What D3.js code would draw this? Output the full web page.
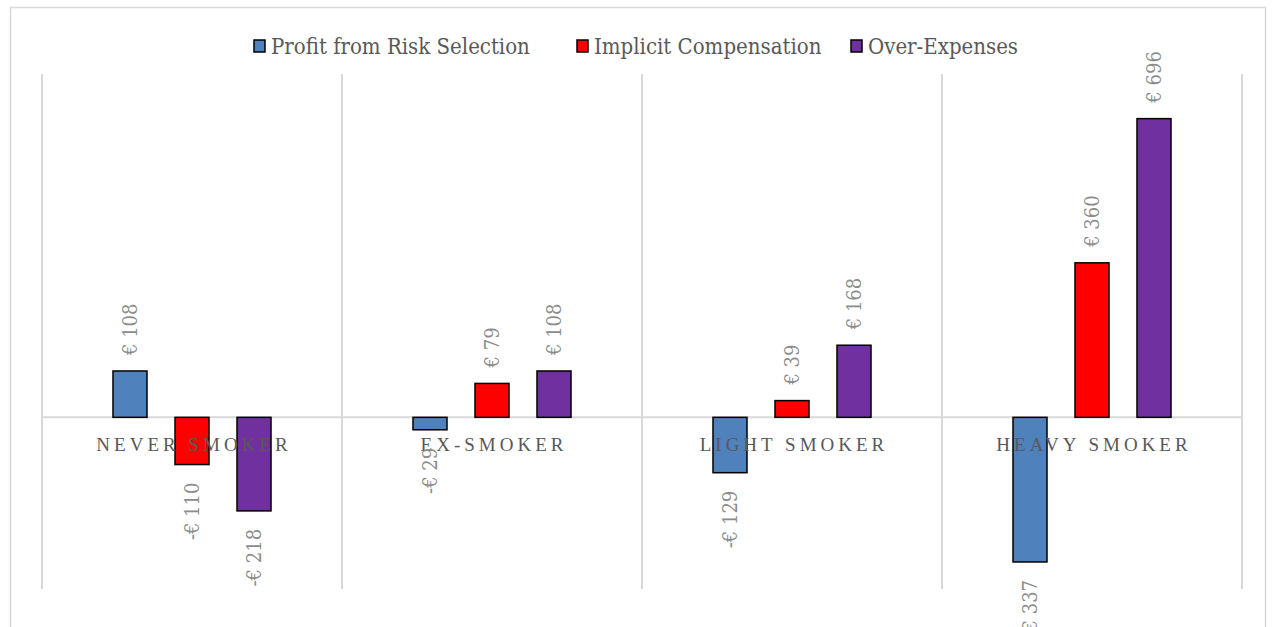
<!DOCTYPE html>
<html>
<head>
<meta charset="utf-8">
<script src="https://cdn.jsdelivr.net/npm/d3@7"></script>
<style>
  body { margin: 0; background: #fff; }
  svg { display: block; }
</style>
</head>
<body>
<script>
// data
const categories = ["NEVER SMOKER", "EX-SMOKER", "LIGHT SMOKER", "HEAVY SMOKER"];
const seriesNames = ["Profit from Risk Selection", "Implicit Compensation", "Over-Expenses"];
const profit = [108, -29, -129, -337];
const implicit = [-110, 79, 39, 360];
const overExp = [-218, 108, 168, 696];
const colors = ["#4f81bd", "#ff0000", "#7030a0"];

const series = [profit, implicit, overExp];

const width = 1277, height = 627;
const margin = {top: 74, right: 35, bottom: 39, left: 42};

var svg = d3.select("body").append("svg")
    .attr("width", width)
    .attr("height", height);

// outer chart border
svg.append("rect")
    .attr("x", 10.5).attr("y", 7.5)
    .attr("width", 1255).attr("height", 640)
    .attr("fill", "none")
    .attr("stroke", "#d9d9d9")
    .attr("stroke-width", 1.5);

const x0 = d3.scaleBand()
    .domain(categories)
    .range([margin.left, width - margin.right]);

const x1 = d3.scaleBand()
    .domain(d3.range(series.length))
    .range([0, x0.bandwidth()])
    .paddingInner(0.4516)
    .paddingOuter(1.145);

const y = d3.scaleLinear()
    .domain([-400, 800])
    .range([height - margin.bottom + 1, margin.top]);

// vertical gridlines at category borders
svg.append("g")
    .selectAll("line")
    .data(categories.map(c => x0(c)).concat([x0.range()[1]]))
    .join("line")
      .attr("x1", d => d).attr("x2", d => d)
      .attr("y1", y.range()[1]).attr("y2", y.range()[0])
      .attr("stroke", "#d9d9d9")
      .attr("stroke-width", 2);

// zero line
svg.append("line")
    .attr("x1", x0.range()[0]).attr("x2", x0.range()[1])
    .attr("y1", y(0)).attr("y2", y(0))
    .attr("stroke", "#d9d9d9")
    .attr("stroke-width", 2);

const bars = [];
categories.forEach((c, i) => {
  series.forEach((s, j) => {
    bars.push({cat: c, k: j, v: s[i]});
  });
});

svg.append("g")
  .selectAll("rect")
  .data(bars)
  .join("rect")
    .attr("x", d => x0(d.cat) + x1(d.k))
    .attr("width", x1.bandwidth())
    .attr("y", d => y(Math.max(0, d.v)))
    .attr("height", d => Math.abs(y(d.v) - y(0)))
    .attr("fill", d => colors[d.k])
    .attr("stroke", "#000")
    .attr("stroke-width", 1.5);

// category labels
svg.append("g")
  .selectAll("text")
  .data(categories)
  .join("text")
    .attr("x", d => x0(d) + x0.bandwidth() / 2 + 2)
    .attr("y", y(0) + 34)
    .attr("text-anchor", "middle")
    .attr("font-family", "Liberation Serif")
    .attr("font-size", 19)
    .attr("letter-spacing", 4)
    .attr("fill", "#595959")
    .text(d => d);

// value labels, rotated
const fmt = v => (v < 0 ? "-€ " : "€ ") + Math.abs(v);
svg.append("g")
  .selectAll("text")
  .data(bars)
  .join("text")
    .attr("transform", d => {
      const cx = x0(d.cat) + x1(d.k) + x1.bandwidth() / 2 + 7;
      const cy = d.v >= 0 ? y(d.v) - 16 : y(d.v) + 18;
      return `translate(${cx},${cy}) rotate(-90)`;
    })
    .attr("text-anchor", d => d.v >= 0 ? "start" : "end")
    .attr("font-family", "DejaVu Serif Condensed, DejaVu Serif")
    .attr("font-stretch", "condensed")
    .attr("font-size", 20)
    .attr("fill", "#8c8c8c")
    .text(d => fmt(d.v));

// legend
const legendX = [254, 577, 851];
const legend = svg.append("g")
  .selectAll("g")
  .data(seriesNames)
  .join("g")
    .attr("transform", (d, i) => `translate(${legendX[i]},40)`);

legend.append("rect")
    .attr("width", 11).attr("height", 12)
    .attr("fill", (d, i) => colors[i])
    .attr("stroke", "#000")
    .attr("stroke-width", 1.5);

legend.append("text")
    .attr("x", 17).attr("y", 14)
    .attr("font-family", "DejaVu Serif Condensed, DejaVu Serif")
    .attr("font-stretch", "condensed")
    .attr("font-size", 22)
    .attr("fill", "#595959")
    .text(d => d);
</script>
</body>
</html>
